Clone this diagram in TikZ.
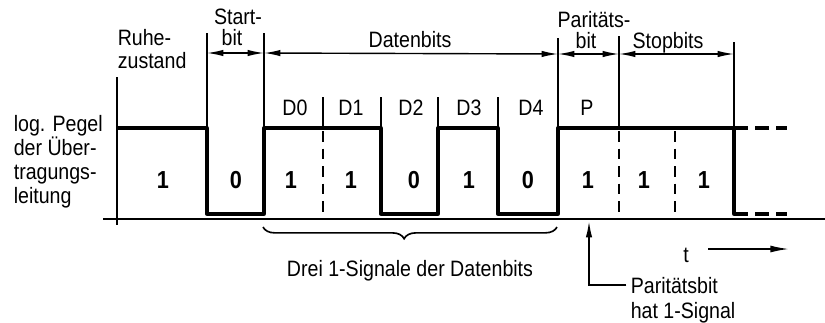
\documentclass[tikz,border=0pt]{standalone}
\usepackage{fontspec}
\setmainfont{Liberation Sans}[FakeStretch=0.88]
\usetikzlibrary{arrows.meta,decorations.pathreplacing}
\tikzset{
  guide/.style={line width=1.4pt},
  signal/.style={line width=2.8pt,line join=round},
  dimarrow/.style={line width=1.2pt,{Latex[length=14pt,width=5.5pt]}-{Latex[length=14pt,width=5.5pt]}},
  lab/.style={anchor=base,inner sep=0.5pt,font=\fontsize{19}{22}\selectfont},
  bitval/.style={anchor=base,inner sep=0.5pt,font=\fontsize{21}{24}\selectfont\bfseries},
}
\begin{document}
\begin{tikzpicture}[x=0.03cm,y=-0.03cm]
\useasboundingbox (0,0) rectangle (825,322);
% Achsen
\draw[guide] (103,219) -- (825,219);
\draw[guide] (117,77) -- (117,225);
% Grenzen der Bits
\foreach \x/\y in {207/33,264/33,323/97,381/97,438/97,498/97,558/38,619/36,734/42}
  \draw[guide] (\x,\y) -- (\x,128);
\foreach \x in {323,619,675}
  \draw[guide,dash pattern=on 9pt off 6pt] (\x,131) -- (\x,212);
% Masspfeile
\coordinate (m0) at (207,53);
\coordinate (m1) at (264,53);
\coordinate (m2) at (558,54);
\coordinate (m3) at (619,54);
\coordinate (m4) at (734,54);
\draw[dimarrow] (m0) -- (m1);
\draw[dimarrow] (m1) -- (m2);
\draw[dimarrow] (m2) -- (m3);
\draw[dimarrow] (m3) -- (m4);
% Signal
\draw[signal] (117,128) -- (207,128) -- (207,214) -- (264,214) -- (264,128)
  -- (381,128) -- (381,214) -- (438,214) -- (438,128) -- (498,128) -- (498,214)
  -- (558,214) -- (558,128) -- (734,128) -- (734,214) -- (738,214);
\draw[signal,dash pattern=on 12pt off 6pt] (734,128) -- (787,128);
\draw[signal,dash pattern=on 12pt off 6pt] (734,214) -- (787,214);
% Beschriftung oben
\node[lab,anchor=base west] (ruhe) at (117,45) {Ruhe-};
\node[lab,anchor=base west] (zust) at (117,68) {zustand};
\node[lab] (start) at (238,24) {Start-};
\node[lab] (sbit) at (232,45) {bit};
\node[lab] (daten) at (410,47) {Datenbits};
\node[lab] (parit) at (594,27) {Paritäts-};
\node[lab] (pbit) at (586,48) {bit};
\node[lab] (stop) at (668,48) {Stopbits};
\node[lab] (d0) at (295,115) {D0};
\node[lab] (d1) at (351,115) {D1};
\node[lab] (d2) at (411,115) {D2};
\node[lab] (d3) at (469,115) {D3};
\node[lab] (d4) at (531,115) {D4};
\node[lab] (p) at (587,115) {P};
% Pegelwerte
\foreach \x/\v in {163/1,236/0,291/1,351/1,414/0,469/1,528/0,588/1,644/1,704/1}
  \node[bitval] at (\x,188) {\v};
% links
\node[lab,anchor=base west] (l1) at (13,131) {log. Pegel};
\node[lab,anchor=base west] (l2) at (13,155) {der Über-};
\node[lab,anchor=base west] (l3) at (13,179) {tragungs-};
\node[lab,anchor=base west] (l4) at (13,203) {leitung};
% Klammer unten
\draw[guide,decorate,decoration={brace,mirror,amplitude=10pt,aspect=0.48}] (263,227) -- (557,227);
\node[lab] (drei) at (410,276) {Drei 1-Signale der Datenbits};
% Paritaetsbit
\coordinate (pax) at (589,221);
\node[lab,anchor=base west] (pnote) at (630,293) {Paritätsbit};
\node[lab,anchor=base west] (phat) at (630,318) {hat 1-Signal};
\draw[guide,-{Latex[length=14pt,width=5.5pt]}] ([xshift=-3pt]pnote.west) -| (pax);
% Zeitachse
\node[lab] (t) at (686,262) {t};
\coordinate (ta) at (708,249);
\coordinate (tb) at (789,249);
\draw[guide,-{Latex[length=16pt,width=6pt]}] (ta) -- (tb);
\end{tikzpicture}
\end{document}
